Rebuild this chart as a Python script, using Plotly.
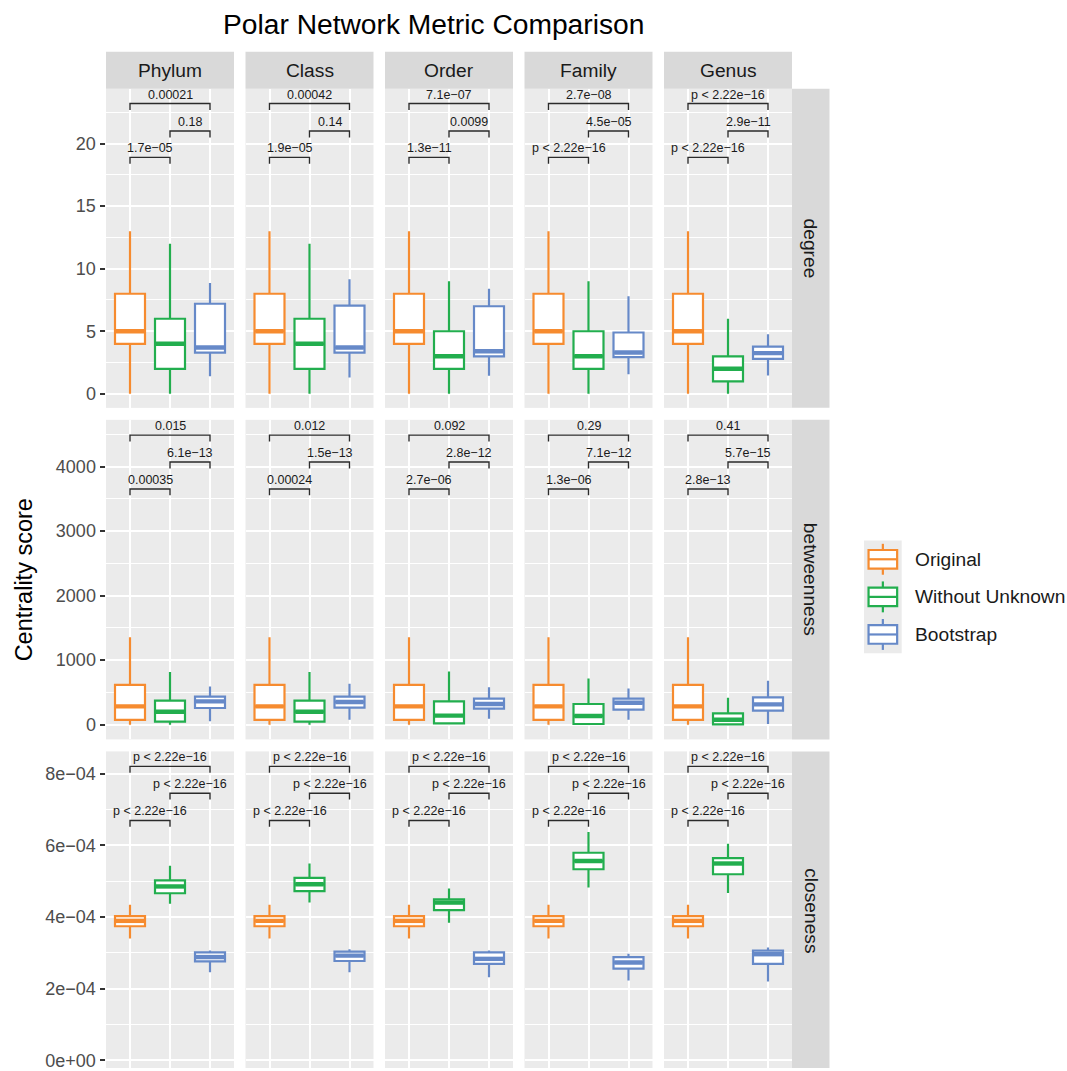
import plotly.graph_objects as go

# ---------------------------------------------------------------- data
ranks = ["Phylum", "Class", "Order", "Family", "Genus"]
metrics = ["degree", "betweenness", "closeness"]
groups = ["Original", "Without Unknown", "Bootstrap"]

# five-number summaries per rank: (lower whisker, Q1, median, Q3, upper whisker)
degree_original = [(0, 4, 5, 8, 13)] * 5
degree_without = [(0, 2, 4, 6, 12), (0, 2, 4, 6, 12), (0, 2, 3, 5, 9),
                  (0, 2, 3, 5, 9), (0, 1, 2, 3, 6)]
degree_bootstrap = [(1.4, 3.3, 3.7, 7.2, 8.85), (1.3, 3.3, 3.7, 7.05, 9.15),
                    (1.45, 3.0, 3.4, 7.0, 8.4), (1.57, 2.93, 3.3, 4.9, 7.8),
                    (1.46, 2.8, 3.25, 3.78, 4.76)]

betweenness_original = [(0, 73, 284, 618, 1355)] * 5
betweenness_without = [(0, 46, 201, 371, 815), (0, 46, 201, 371, 815),
                       (10, 21, 140, 361, 825), (0, 10, 135, 320, 717),
                       (0, 5, 77, 176, 418)]
betweenness_bootstrap = [(52, 258, 361, 433, 593), (77, 263, 351, 433, 634),
                         (93, 247, 320, 402, 578), (77, 232, 340, 402, 562),
                         (10, 216, 315, 423, 680)]

closeness_original = [(3.40e-4, 3.74e-4, 3.89e-4, 4.02e-4, 4.34e-4)] * 5
closeness_without = [(4.37e-4, 4.66e-4, 4.85e-4, 5.02e-4, 5.43e-4),
                     (4.40e-4, 4.72e-4, 4.91e-4, 5.09e-4, 5.49e-4),
                     (3.84e-4, 4.19e-4, 4.40e-4, 4.49e-4, 4.79e-4),
                     (4.82e-4, 5.33e-4, 5.56e-4, 5.79e-4, 6.37e-4),
                     (4.67e-4, 5.19e-4, 5.49e-4, 5.64e-4, 6.04e-4)]
closeness_bootstrap = [(2.46e-4, 2.76e-4, 2.88e-4, 3.01e-4, 3.06e-4),
                       (2.46e-4, 2.77e-4, 2.92e-4, 3.03e-4, 3.10e-4),
                       (2.32e-4, 2.69e-4, 2.83e-4, 3.01e-4, 3.06e-4),
                       (2.23e-4, 2.56e-4, 2.73e-4, 2.88e-4, 2.97e-4),
                       (2.20e-4, 2.69e-4, 2.96e-4, 3.06e-4, 3.15e-4)]

# pairwise comparisons (group positions) and their p-value labels per rank
comparisons = [(1, 2), (2, 3), (1, 3)]
P = "p < 2.22e\u221216"
degree_p = [("1.7e\u221205", "0.18", "0.00021"),
            ("1.9e\u221205", "0.14", "0.00042"),
            ("1.3e\u221211", "0.0099", "7.1e\u221207"),
            (P, "4.5e\u221205", "2.7e\u221208"),
            (P, "2.9e\u221211", P)]
betweenness_p = [("0.00035", "6.1e\u221213", "0.015"),
                 ("0.00024", "1.5e\u221213", "0.012"),
                 ("2.7e\u221206", "2.8e\u221212", "0.092"),
                 ("1.3e\u221206", "7.1e\u221212", "0.29"),
                 ("2.8e\u221213", "5.7e\u221215", "0.41")]
closeness_p = [(P, P, P)] * 5

# bracket heights for the three comparisons in each metric row
degree_brackets = [18.9, 21.0, 23.2]
betweenness_brackets = [3654, 4071, 4488]
closeness_brackets = [6.69e-4, 7.45e-4, 8.20e-4]

degree_ticks = [0, 5, 10, 15, 20]
degree_ticktext = ["0", "5", "10", "15", "20"]
betweenness_ticks = [0, 1000, 2000, 3000, 4000]
betweenness_ticktext = ["0", "1000", "2000", "3000", "4000"]
closeness_ticks = [0, 2e-4, 4e-4, 6e-4, 8e-4]
closeness_ticktext = ["0e+00", "2e\u221204", "4e\u221204", "6e\u221204", "8e\u221204"]

# ---------------------------------------------------------------- style
colors = {"Original": "#F68B2F", "Without Unknown": "#22AE4E", "Bootstrap": "#6689C8"}
FONT = "Liberation Sans, Arial, Helvetica, sans-serif"
W, H = 1067, 1071
PANEL_BG = "#EBEBEB"
STRIP_BG = "#D9D9D9"
STRIP_FONT = 19.2

summaries = {
    "degree": [degree_original, degree_without, degree_bootstrap],
    "betweenness": [betweenness_original, betweenness_without, betweenness_bootstrap],
    "closeness": [closeness_original, closeness_without, closeness_bootstrap],
}
pvals = {"degree": degree_p, "betweenness": betweenness_p, "closeness": closeness_p}
brackets = {"degree": degree_brackets, "betweenness": betweenness_brackets,
            "closeness": closeness_brackets}
ticks = {"degree": (degree_ticks, degree_ticktext, 2.5),
         "betweenness": (betweenness_ticks, betweenness_ticktext, 500),
         "closeness": (closeness_ticks, closeness_ticktext, 1e-4)}
yranges = {"degree": [-1.12, 24.38],
           "betweenness": [-229, 4726],
           "closeness": [-2.14e-5, 8.617e-4]}

# panel geometry in pixels
col_x0 = [106 + 139.5 * c for c in range(5)]
col_w = 128
row_top = [89, 421, 753.5]
row_bot = [409, 741.5, 1071]
strip_h = 37
strip_w = 37.5


def px(x):
    return x / W


def py(y):
    return 1 - y / H


fig = go.Figure()
layout = {}
annotations = []
shapes = []

BOX_W = 0.75
for r, metric in enumerate(metrics):
    lo, hi = yranges[metric]
    span_px = row_bot[r] - row_top[r]
    tip = 6.4 * (hi - lo) / span_px
    tv, tt, minor_dt = ticks[metric]
    for c, rank in enumerate(ranks):
        k = r * 5 + c + 1
        xa = f"x{k}"
        ya = f"y{k}"
        xkey = "xaxis" if k == 1 else f"xaxis{k}"
        ykey = "yaxis" if k == 1 else f"yaxis{k}"
        layout[xkey] = dict(
            domain=[px(col_x0[c]), px(col_x0[c] + col_w)], anchor=ya,
            range=[0.4, 3.6], tickvals=[1, 2, 3], showticklabels=False,
            ticks="", showgrid=True, gridcolor="white", gridwidth=2.2,
            zeroline=False, showline=False, fixedrange=True,
        )
        layout[ykey] = dict(
            domain=[py(row_bot[r]), py(row_top[r])], anchor=xa,
            range=[lo, hi], tickvals=tv, ticktext=tt,
            showticklabels=(c == 0), ticks="outside" if c == 0 else "",
            ticklen=5.5, tickwidth=2.2, tickcolor="#333333",
            tickfont=dict(family=FONT, size=18, color="#4D4D4D"),
            ticklabeloverflow="allow",
            showgrid=True, gridcolor="white", gridwidth=2.2,
            minor=dict(dtick=minor_dt, tick0=0, showgrid=True,
                       gridcolor="white", gridwidth=1.1, ticks=""),
            zeroline=False, showline=False, fixedrange=True,
        )

        for g, group in enumerate(groups):
            lw, q1, med, q3, up = summaries[metric][g][c]
            pos = g + 1
            fig.add_trace(go.Box(
                x=[pos], lowerfence=[lw], q1=[q1], median=[med], q3=[q3],
                upperfence=[up], width=BOX_W, whiskerwidth=0,
                fillcolor="white", line=dict(color=colors[group], width=2.2),
                boxpoints=False, name=group, showlegend=False,
                xaxis=xa, yaxis=ya, hoverinfo="skip",
            ))
            # heavier median stroke
            fig.add_trace(go.Scatter(
                x=[pos - BOX_W / 2 + 0.02, pos + BOX_W / 2 - 0.02], y=[med, med],
                mode="lines", line=dict(color=colors[group], width=4.4),
                showlegend=False, xaxis=xa, yaxis=ya, hoverinfo="skip",
            ))

        # significance brackets
        for j, (a, b) in enumerate(comparisons):
            lvl = brackets[metric][j]
            fig.add_trace(go.Scatter(
                x=[a, a, b, b], y=[lvl - tip, lvl, lvl, lvl - tip],
                mode="lines", line=dict(color="#2B2B2B", width=1.4),
                showlegend=False, xaxis=xa, yaxis=ya, hoverinfo="skip",
            ))
            annotations.append(dict(
                x=(a + b) / 2, y=lvl, xref=xa, yref=ya, text=pvals[metric][c][j],
                showarrow=False, xanchor="center", yanchor="bottom", yshift=0,
                font=dict(family=FONT, size=12.5, color="#1A1A1A"),
            ))

# top strips
for c, rank in enumerate(ranks):
    shapes.append(dict(type="rect", xref="paper", yref="paper",
                       x0=px(col_x0[c]), x1=px(col_x0[c] + col_w),
                       y0=py(row_top[0]), y1=py(row_top[0] - strip_h),
                       fillcolor=STRIP_BG, line=dict(width=0), layer="below"))
    annotations.append(dict(x=px(col_x0[c] + col_w / 2), y=py(row_top[0] - strip_h / 2),
                            xref="paper", yref="paper", text=rank, showarrow=False,
                            xanchor="center", yanchor="middle",
                            font=dict(family=FONT, size=STRIP_FONT, color="#1A1A1A")))

# right strips
sx0 = col_x0[-1] + col_w
for r, metric in enumerate(metrics):
    shapes.append(dict(type="rect", xref="paper", yref="paper",
                       x0=px(sx0), x1=px(sx0 + strip_w),
                       y0=py(row_bot[r]), y1=py(row_top[r]),
                       fillcolor=STRIP_BG, line=dict(width=0), layer="below"))
    mid = row_top[r] + 160 if r == 2 else (row_top[r] + row_bot[r]) / 2
    annotations.append(dict(x=px(sx0 + strip_w / 2), y=py(mid),
                            xref="paper", yref="paper", text=metric, showarrow=False,
                            textangle=90, xanchor="center", yanchor="middle",
                            font=dict(family=FONT, size=STRIP_FONT, color="#1A1A1A")))

# title and axis title
annotations.append(dict(x=px(433), y=py(24), xref="paper", yref="paper",
                        text="Polar Network Metric Comparison", showarrow=False,
                        xanchor="center", yanchor="middle",
                        font=dict(family=FONT, size=28.2, color="#000000")))
annotations.append(dict(x=px(24), y=py(582), xref="paper", yref="paper",
                        text="Centrality score", showarrow=False, textangle=-90,
                        xanchor="center", yanchor="middle",
                        font=dict(family=FONT, size=23.5, color="#000000")))

# legend: boxplot keys on a grey key background
key_x0, key_y0, key_size = 864, 542, 37.7
shapes.append(dict(type="rect", xref="paper", yref="paper",
                   x0=px(key_x0), x1=px(key_x0 + key_size),
                   y0=py(key_y0 + 3 * key_size), y1=py(key_y0),
                   fillcolor=PANEL_BG, line=dict(width=0)))
for g, group in enumerate(groups):
    cx = key_x0 + key_size / 2
    cy = key_y0 + key_size * (g + 0.5)
    col = colors[group]
    shapes.append(dict(type="line", xref="paper", yref="paper",
                       x0=px(cx), x1=px(cx), y0=py(cy - 15.5), y1=py(cy + 15.5),
                       line=dict(color=col, width=2.2)))
    shapes.append(dict(type="rect", xref="paper", yref="paper",
                       x0=px(cx - 14.3), x1=px(cx + 14.3), y0=py(cy + 9.3), y1=py(cy - 9.3),
                       fillcolor="white", line=dict(color=col, width=2.2)))
    shapes.append(dict(type="line", xref="paper", yref="paper",
                       x0=px(cx - 14.3), x1=px(cx + 14.3), y0=py(cy), y1=py(cy),
                       line=dict(color=col, width=2.2)))
    annotations.append(dict(x=px(913), y=py(cy), xref="paper", yref="paper",
                            text=group, showarrow=False, xanchor="left", yanchor="middle",
                            font=dict(family=FONT, size=STRIP_FONT, color="#1A1A1A")))

fig.update_layout(
    width=W, height=H, margin=dict(l=0, r=0, t=0, b=0),
    paper_bgcolor="white", plot_bgcolor=PANEL_BG,
    showlegend=False, annotations=annotations, shapes=shapes,
    font=dict(family=FONT), **layout,
)

fig.write_html("out.html")
